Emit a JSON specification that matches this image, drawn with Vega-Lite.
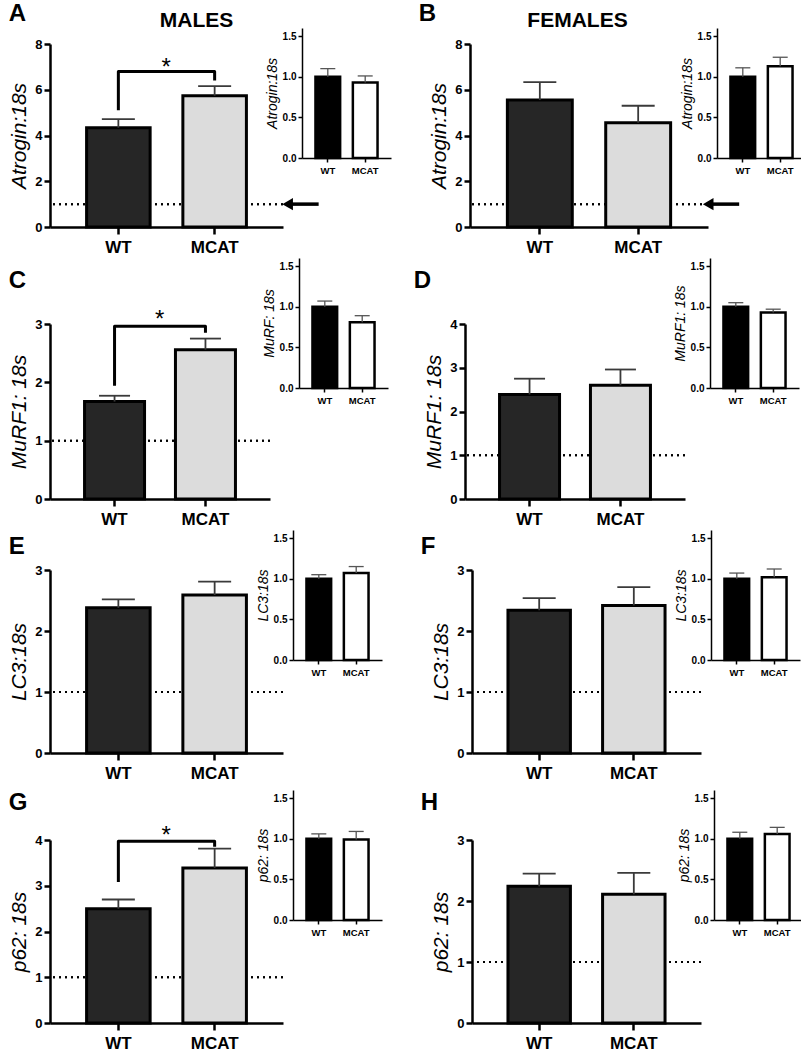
{
  "$schema": "https://vega.github.io/schema/vega-lite/v6.json",
  "padding": {"left": 8, "top": 2, "right": 0, "bottom": 0},
  "datasets": {
    "main": [
      {"panel": "A", "group": "WT", "mean": 4.34, "upper": 4.72},
      {"panel": "A", "group": "MCAT", "mean": 5.74, "upper": 6.16},
      {"panel": "B", "group": "WT", "mean": 5.55, "upper": 6.33},
      {"panel": "B", "group": "MCAT", "mean": 4.56, "upper": 5.3},
      {"panel": "C", "group": "WT", "mean": 1.67, "upper": 1.77},
      {"panel": "C", "group": "MCAT", "mean": 2.56, "upper": 2.75},
      {"panel": "D", "group": "WT", "mean": 2.39, "upper": 2.75},
      {"panel": "D", "group": "MCAT", "mean": 2.6, "upper": 2.96},
      {"panel": "E", "group": "WT", "mean": 2.38, "upper": 2.52},
      {"panel": "E", "group": "MCAT", "mean": 2.59, "upper": 2.81},
      {"panel": "F", "group": "WT", "mean": 2.34, "upper": 2.54},
      {"panel": "F", "group": "MCAT", "mean": 2.42, "upper": 2.72},
      {"panel": "G", "group": "WT", "mean": 2.5, "upper": 2.7},
      {"panel": "G", "group": "MCAT", "mean": 3.39, "upper": 3.81},
      {"panel": "H", "group": "WT", "mean": 2.24, "upper": 2.45},
      {"panel": "H", "group": "MCAT", "mean": 2.11, "upper": 2.46}
    ],
    "inset": [
      {"panel": "A", "group": "WT", "mean": 1.0, "upper": 1.1},
      {"panel": "A", "group": "MCAT", "mean": 0.93, "upper": 1.01},
      {"panel": "B", "group": "WT", "mean": 1.0, "upper": 1.11},
      {"panel": "B", "group": "MCAT", "mean": 1.13, "upper": 1.24},
      {"panel": "C", "group": "WT", "mean": 1.0, "upper": 1.07},
      {"panel": "C", "group": "MCAT", "mean": 0.81, "upper": 0.89},
      {"panel": "D", "group": "WT", "mean": 1.0, "upper": 1.05},
      {"panel": "D", "group": "MCAT", "mean": 0.93, "upper": 0.97},
      {"panel": "E", "group": "WT", "mean": 1.0, "upper": 1.05},
      {"panel": "E", "group": "MCAT", "mean": 1.07, "upper": 1.15},
      {"panel": "F", "group": "WT", "mean": 1.0, "upper": 1.07},
      {"panel": "F", "group": "MCAT", "mean": 1.02, "upper": 1.12},
      {"panel": "G", "group": "WT", "mean": 1.0, "upper": 1.06},
      {"panel": "G", "group": "MCAT", "mean": 0.99, "upper": 1.09},
      {"panel": "H", "group": "WT", "mean": 1.0, "upper": 1.08},
      {"panel": "H", "group": "MCAT", "mean": 1.06, "upper": 1.14}
    ],
    "bracket": [
      {"panel": "A", "group": "WT", "y": 5.1, "order": 1},
      {"panel": "A", "group": "WT", "y": 6.8, "order": 2},
      {"panel": "A", "group": "MCAT", "y": 6.8, "order": 3},
      {"panel": "A", "group": "MCAT", "y": 6.4, "order": 4},
      {"panel": "C", "group": "WT", "y": 1.94, "order": 1},
      {"panel": "C", "group": "WT", "y": 2.96, "order": 2},
      {"panel": "C", "group": "MCAT", "y": 2.96, "order": 3},
      {"panel": "C", "group": "MCAT", "y": 2.85, "order": 4},
      {"panel": "G", "group": "WT", "y": 3.08, "order": 1},
      {"panel": "G", "group": "WT", "y": 3.97, "order": 2},
      {"panel": "G", "group": "MCAT", "y": 3.97, "order": 3},
      {"panel": "G", "group": "MCAT", "y": 3.85, "order": 4}
    ],
    "star": [
      {"panel": "A", "group": "WT", "y": 6.97, "label": "*"},
      {"panel": "C", "group": "WT", "y": 3.07, "label": "*"},
      {"panel": "G", "group": "WT", "y": 4.09, "label": "*"}
    ],
    "arrow": [
      {"panel": "A", "group": "MCAT", "y": 1},
      {"panel": "B", "group": "MCAT", "y": 1}
    ]
  },
  "columns": 1,
  "align": "none",
  "spacing": 3,
  "concat": [
    {
      "columns": 2, "align": "none", "spacing": 27,
      "concat": [
        {
          "columns": 2, "align": "none", "spacing": -160,
          "concat": [
            {
              "width": 233, "height": 225,
              "title": {"text": "A", "fontSize": 24, "anchor": "start", "frame": "bounds", "offset": -24},
              "layer": [
                {"data": {"name": "main"}, "transform": [{"filter": "datum.panel === 'A'"}],
                 "mark": {"type": "rule", "color": "black", "strokeWidth": 2, "strokeDash": [2, 4]},
                 "encoding": {"y": {"datum": 1, "type": "quantitative"}}},
                {"data": {"name": "main"}, "transform": [{"filter": "datum.panel === 'A'"}],
                 "mark": {"type": "bar", "stroke": "black", "strokeWidth": 3},
                 "encoding": {
                   "x": {"field": "group", "type": "nominal", "sort": ["WT", "MCAT"], "scale": {"domain": ["WT", "MCAT"], "paddingInner": 0.34, "paddingOuter": 0.38}, "axis": {"title": null, "labelAngle": 0, "labelFontSize": 17, "labelFontWeight": "bold", "labelPadding": 5, "tickSize": 7, "tickWidth": 2.5, "domainWidth": 2.5}},
                   "y": {"field": "mean", "type": "quantitative", "scale": {"domain": [0, 8], "range": [225, 42]}, "axis": {"title": "Atrogin:18s", "values": [0, 2, 4, 6, 8], "format": "d", "titleFontStyle": "italic", "titleFontWeight": "normal", "titleFontSize": 21, "titlePadding": 5, "labelFontSize": 13, "labelFontWeight": "bold", "labelPadding": 2, "tickSize": 6, "tickWidth": 2.5, "domainWidth": 2.5}},
                   "color": {"condition": {"test": "datum.group === 'WT'", "value": "#262626"}, "value": "#dcdcdc"}
                 }},
                {"data": {"name": "main"}, "transform": [{"filter": "datum.panel === 'A'"}],
                 "mark": {"type": "rule", "color": "#3a3a3a", "strokeWidth": 1.8},
                 "encoding": {"x": {"field": "group", "type": "nominal"}, "y": {"field": "mean", "type": "quantitative"}, "y2": {"field": "upper"}}},
                {"data": {"name": "main"}, "transform": [{"filter": "datum.panel === 'A'"}],
                 "mark": {"type": "tick", "color": "#3a3a3a", "thickness": 1.8, "size": 33, "opacity": 1},
                 "encoding": {"x": {"field": "group", "type": "nominal"}, "y": {"field": "upper", "type": "quantitative"}}},
                {"data": {"name": "bracket"}, "transform": [{"filter": "datum.panel === 'A'"}],
                 "mark": {"type": "line", "color": "black", "strokeWidth": 3, "strokeJoin": "round"},
                 "encoding": {"x": {"field": "group", "type": "nominal"}, "y": {"field": "y", "type": "quantitative"}, "order": {"field": "order"}}},
                {"data": {"name": "star"}, "transform": [{"filter": "datum.panel === 'A'"}],
                 "mark": {"type": "text", "fontSize": 24, "baseline": "middle", "color": "black"},
                 "encoding": {"x": {"field": "group", "type": "nominal", "bandPosition": 1.254}, "y": {"field": "y", "type": "quantitative"}, "text": {"field": "label"}}},
                {"data": {"name": "arrow"}, "transform": [{"filter": "datum.panel === 'A'"}],
                 "mark": {"type": "tick", "color": "black", "thickness": 3.5, "size": 28, "xOffset": 90, "opacity": 1},
                 "encoding": {"x": {"field": "group", "type": "nominal"}, "y": {"field": "y", "type": "quantitative"}}},
                {"data": {"name": "arrow"}, "transform": [{"filter": "datum.panel === 'A'"}],
                 "mark": {"type": "point", "shape": "triangle-left", "filled": true, "color": "black", "size": 150, "xOffset": 73, "opacity": 1},
                 "encoding": {"x": {"field": "group", "type": "nominal"}, "y": {"field": "y", "type": "quantitative"}}}
              ]
            },
            {
              "width": 89, "height": 156,
              "title": {"text": "MALES", "fontSize": 21, "anchor": "middle", "frame": "group", "dx": -150, "offset": -29},
              "layer": [
                {"data": {"name": "inset"}, "transform": [{"filter": "datum.panel === 'A'"}],
                 "mark": {"type": "bar", "stroke": "black", "strokeWidth": 2.5},
                 "encoding": {
                   "x": {"field": "group", "type": "nominal", "sort": ["WT", "MCAT"], "scale": {"domain": ["WT", "MCAT"], "paddingInner": 0.34, "paddingOuter": 0.36}, "axis": {"title": null, "labelAngle": 0, "labelFontSize": 9.5, "labelFontWeight": "bold", "labelPadding": 3, "tickSize": 4, "tickWidth": 1.5, "domainWidth": 1.5}},
                   "y": {"field": "mean", "type": "quantitative", "scale": {"domain": [0, 1.5], "range": [156, 26]}, "axis": {"title": "Atrogin:18s", "values": [0, 0.5, 1, 1.5], "format": ".1f", "titleFontStyle": "italic", "titleFontWeight": "normal", "titleFontSize": 14, "titlePadding": 3, "labelFontSize": 10, "labelFontWeight": "bold", "labelPadding": 2, "tickSize": 4, "tickWidth": 1.5, "domainWidth": 1.5}},
                   "color": {"condition": {"test": "datum.group === 'WT'", "value": "black"}, "value": "white"}
                 }},
                {"data": {"name": "inset"}, "transform": [{"filter": "datum.panel === 'A'"}],
                 "mark": {"type": "rule", "color": "#555555", "strokeWidth": 1.3},
                 "encoding": {"x": {"field": "group", "type": "nominal"}, "y": {"field": "mean", "type": "quantitative"}, "y2": {"field": "upper"}}},
                {"data": {"name": "inset"}, "transform": [{"filter": "datum.panel === 'A'"}],
                 "mark": {"type": "tick", "color": "#555555", "thickness": 1.3, "size": 15, "opacity": 1},
                 "encoding": {"x": {"field": "group", "type": "nominal"}, "y": {"field": "upper", "type": "quantitative"}}}
              ]
            }
          ]
        },
        {
          "columns": 2, "align": "none", "spacing": -213,
          "concat": [
            {
              "width": 238, "height": 225,
              "title": {"text": "B", "fontSize": 24, "anchor": "start", "frame": "bounds", "offset": -24, "dx": -10},
              "layer": [
                {"data": {"name": "main"}, "transform": [{"filter": "datum.panel === 'B'"}],
                 "mark": {"type": "rule", "color": "black", "strokeWidth": 2, "strokeDash": [2, 4]},
                 "encoding": {"y": {"datum": 1, "type": "quantitative"}}},
                {"data": {"name": "main"}, "transform": [{"filter": "datum.panel === 'B'"}],
                 "mark": {"type": "bar", "stroke": "black", "strokeWidth": 3},
                 "encoding": {
                   "x": {"field": "group", "type": "nominal", "sort": ["WT", "MCAT"], "scale": {"domain": ["WT", "MCAT"], "paddingInner": 0.34, "paddingOuter": 0.38}, "axis": {"title": null, "labelAngle": 0, "labelFontSize": 17, "labelFontWeight": "bold", "labelPadding": 5, "tickSize": 7, "tickWidth": 2.5, "domainWidth": 2.5}},
                   "y": {"field": "mean", "type": "quantitative", "scale": {"domain": [0, 8], "range": [225, 42]}, "axis": {"title": "Atrogin:18s", "values": [0, 2, 4, 6, 8], "format": "d", "titleFontStyle": "italic", "titleFontWeight": "normal", "titleFontSize": 21, "titlePadding": 5, "labelFontSize": 13, "labelFontWeight": "bold", "labelPadding": 2, "tickSize": 6, "tickWidth": 2.5, "domainWidth": 2.5}},
                   "color": {"condition": {"test": "datum.group === 'WT'", "value": "#262626"}, "value": "#dcdcdc"}
                 }},
                {"data": {"name": "main"}, "transform": [{"filter": "datum.panel === 'B'"}],
                 "mark": {"type": "rule", "color": "#3a3a3a", "strokeWidth": 1.8},
                 "encoding": {"x": {"field": "group", "type": "nominal"}, "y": {"field": "mean", "type": "quantitative"}, "y2": {"field": "upper"}}},
                {"data": {"name": "main"}, "transform": [{"filter": "datum.panel === 'B'"}],
                 "mark": {"type": "tick", "color": "#3a3a3a", "thickness": 1.8, "size": 33, "opacity": 1},
                 "encoding": {"x": {"field": "group", "type": "nominal"}, "y": {"field": "upper", "type": "quantitative"}}},
                {"data": {"name": "arrow"}, "transform": [{"filter": "datum.panel === 'B'"}],
                 "mark": {"type": "tick", "color": "black", "thickness": 3.5, "size": 28, "xOffset": 87, "opacity": 1},
                 "encoding": {"x": {"field": "group", "type": "nominal"}, "y": {"field": "y", "type": "quantitative"}}},
                {"data": {"name": "arrow"}, "transform": [{"filter": "datum.panel === 'B'"}],
                 "mark": {"type": "point", "shape": "triangle-left", "filled": true, "color": "black", "size": 150, "xOffset": 70, "opacity": 1},
                 "encoding": {"x": {"field": "group", "type": "nominal"}, "y": {"field": "y", "type": "quantitative"}}}
              ]
            },
            {
              "width": 89, "height": 156,
              "title": {"text": "FEMALES", "fontSize": 21, "anchor": "middle", "frame": "group", "dx": -184, "offset": -29},
              "layer": [
                {"data": {"name": "inset"}, "transform": [{"filter": "datum.panel === 'B'"}],
                 "mark": {"type": "bar", "stroke": "black", "strokeWidth": 2.5},
                 "encoding": {
                   "x": {"field": "group", "type": "nominal", "sort": ["WT", "MCAT"], "scale": {"domain": ["WT", "MCAT"], "paddingInner": 0.34, "paddingOuter": 0.36}, "axis": {"title": null, "labelAngle": 0, "labelFontSize": 9.5, "labelFontWeight": "bold", "labelPadding": 3, "tickSize": 4, "tickWidth": 1.5, "domainWidth": 1.5}},
                   "y": {"field": "mean", "type": "quantitative", "scale": {"domain": [0, 1.5], "range": [156, 26]}, "axis": {"title": "Atrogin:18s", "values": [0, 0.5, 1, 1.5], "format": ".1f", "titleFontStyle": "italic", "titleFontWeight": "normal", "titleFontSize": 14, "titlePadding": 3, "labelFontSize": 10, "labelFontWeight": "bold", "labelPadding": 2, "tickSize": 4, "tickWidth": 1.5, "domainWidth": 1.5}},
                   "color": {"condition": {"test": "datum.group === 'WT'", "value": "black"}, "value": "white"}
                 }},
                {"data": {"name": "inset"}, "transform": [{"filter": "datum.panel === 'B'"}],
                 "mark": {"type": "rule", "color": "#555555", "strokeWidth": 1.3},
                 "encoding": {"x": {"field": "group", "type": "nominal"}, "y": {"field": "mean", "type": "quantitative"}, "y2": {"field": "upper"}}},
                {"data": {"name": "inset"}, "transform": [{"filter": "datum.panel === 'B'"}],
                 "mark": {"type": "tick", "color": "#555555", "thickness": 1.3, "size": 15, "opacity": 1},
                 "encoding": {"x": {"field": "group", "type": "nominal"}, "y": {"field": "upper", "type": "quantitative"}}}
              ]
            }
          ]
        }
      ]
    },
    {
      "columns": 2, "align": "none", "spacing": 25,
      "concat": [
        {
          "columns": 2, "align": "none", "spacing": -9,
          "concat": [
            {
              "width": 220, "height": 241,
              "title": {"text": "C", "fontSize": 24, "anchor": "start", "frame": "bounds", "offset": -35},
              "layer": [
                {"data": {"name": "main"}, "transform": [{"filter": "datum.panel === 'C'"}],
                 "mark": {"type": "rule", "color": "black", "strokeWidth": 2, "strokeDash": [2, 4]},
                 "encoding": {"y": {"datum": 1, "type": "quantitative"}}},
                {"data": {"name": "main"}, "transform": [{"filter": "datum.panel === 'C'"}],
                 "mark": {"type": "bar", "stroke": "black", "strokeWidth": 3},
                 "encoding": {
                   "x": {"field": "group", "type": "nominal", "sort": ["WT", "MCAT"], "scale": {"domain": ["WT", "MCAT"], "paddingInner": 0.34, "paddingOuter": 0.38}, "axis": {"title": null, "labelAngle": 0, "labelFontSize": 17, "labelFontWeight": "bold", "labelPadding": 5, "tickSize": 7, "tickWidth": 2.5, "domainWidth": 2.5}},
                   "y": {"field": "mean", "type": "quantitative", "scale": {"domain": [0, 3], "range": [241, 66]}, "axis": {"title": "MuRF1: 18s", "values": [0, 1, 2, 3], "format": "d", "titleFontStyle": "italic", "titleFontWeight": "normal", "titleFontSize": 21, "titlePadding": 5, "labelFontSize": 13, "labelFontWeight": "bold", "labelPadding": 2, "tickSize": 6, "tickWidth": 2.5, "domainWidth": 2.5}},
                   "color": {"condition": {"test": "datum.group === 'WT'", "value": "#262626"}, "value": "#dcdcdc"}
                 }},
                {"data": {"name": "main"}, "transform": [{"filter": "datum.panel === 'C'"}],
                 "mark": {"type": "rule", "color": "#3a3a3a", "strokeWidth": 1.8},
                 "encoding": {"x": {"field": "group", "type": "nominal"}, "y": {"field": "mean", "type": "quantitative"}, "y2": {"field": "upper"}}},
                {"data": {"name": "main"}, "transform": [{"filter": "datum.panel === 'C'"}],
                 "mark": {"type": "tick", "color": "#3a3a3a", "thickness": 1.8, "size": 31, "opacity": 1},
                 "encoding": {"x": {"field": "group", "type": "nominal"}, "y": {"field": "upper", "type": "quantitative"}}},
                {"data": {"name": "bracket"}, "transform": [{"filter": "datum.panel === 'C'"}],
                 "mark": {"type": "line", "color": "black", "strokeWidth": 3, "strokeJoin": "round"},
                 "encoding": {"x": {"field": "group", "type": "nominal"}, "y": {"field": "y", "type": "quantitative"}, "order": {"field": "order"}}},
                {"data": {"name": "star"}, "transform": [{"filter": "datum.panel === 'C'"}],
                 "mark": {"type": "text", "fontSize": 24, "baseline": "middle", "color": "black"},
                 "encoding": {"x": {"field": "group", "type": "nominal", "bandPosition": 1.254}, "y": {"field": "y", "type": "quantitative"}, "text": {"field": "label"}}}
              ]
            },
            {
              "width": 89, "height": 130,
              "layer": [
                {"data": {"name": "inset"}, "transform": [{"filter": "datum.panel === 'C'"}],
                 "mark": {"type": "bar", "stroke": "black", "strokeWidth": 2.5},
                 "encoding": {
                   "x": {"field": "group", "type": "nominal", "sort": ["WT", "MCAT"], "scale": {"domain": ["WT", "MCAT"], "paddingInner": 0.34, "paddingOuter": 0.36}, "axis": {"title": null, "labelAngle": 0, "labelFontSize": 9.5, "labelFontWeight": "bold", "labelPadding": 3, "tickSize": 4, "tickWidth": 1.5, "domainWidth": 1.5}},
                   "y": {"field": "mean", "type": "quantitative", "scale": {"domain": [0, 1.5], "range": [130, 0]}, "axis": {"title": "MuRF: 18s", "values": [0, 0.5, 1, 1.5], "format": ".1f", "titleFontStyle": "italic", "titleFontWeight": "normal", "titleFontSize": 14, "titlePadding": 3, "labelFontSize": 10, "labelFontWeight": "bold", "labelPadding": 2, "tickSize": 4, "tickWidth": 1.5, "domainWidth": 1.5}},
                   "color": {"condition": {"test": "datum.group === 'WT'", "value": "black"}, "value": "white"}
                 }},
                {"data": {"name": "inset"}, "transform": [{"filter": "datum.panel === 'C'"}],
                 "mark": {"type": "rule", "color": "#555555", "strokeWidth": 1.3},
                 "encoding": {"x": {"field": "group", "type": "nominal"}, "y": {"field": "mean", "type": "quantitative"}, "y2": {"field": "upper"}}},
                {"data": {"name": "inset"}, "transform": [{"filter": "datum.panel === 'C'"}],
                 "mark": {"type": "tick", "color": "#555555", "thickness": 1.3, "size": 15, "opacity": 1},
                 "encoding": {"x": {"field": "group", "type": "nominal"}, "y": {"field": "upper", "type": "quantitative"}}}
              ]
            }
          ]
        },
        {
          "columns": 2, "align": "none", "spacing": -13,
          "concat": [
            {
              "width": 220, "height": 241,
              "title": {"text": "D", "fontSize": 24, "anchor": "start", "frame": "bounds", "offset": -35, "dx": -10},
              "layer": [
                {"data": {"name": "main"}, "transform": [{"filter": "datum.panel === 'D'"}],
                 "mark": {"type": "rule", "color": "black", "strokeWidth": 2, "strokeDash": [2, 4]},
                 "encoding": {"y": {"datum": 1, "type": "quantitative"}}},
                {"data": {"name": "main"}, "transform": [{"filter": "datum.panel === 'D'"}],
                 "mark": {"type": "bar", "stroke": "black", "strokeWidth": 3},
                 "encoding": {
                   "x": {"field": "group", "type": "nominal", "sort": ["WT", "MCAT"], "scale": {"domain": ["WT", "MCAT"], "paddingInner": 0.34, "paddingOuter": 0.38}, "axis": {"title": null, "labelAngle": 0, "labelFontSize": 17, "labelFontWeight": "bold", "labelPadding": 5, "tickSize": 7, "tickWidth": 2.5, "domainWidth": 2.5}},
                   "y": {"field": "mean", "type": "quantitative", "scale": {"domain": [0, 4], "range": [241, 66]}, "axis": {"title": "MuRF1: 18s", "values": [0, 1, 2, 3, 4], "format": "d", "titleFontStyle": "italic", "titleFontWeight": "normal", "titleFontSize": 21, "titlePadding": 5, "labelFontSize": 13, "labelFontWeight": "bold", "labelPadding": 2, "tickSize": 6, "tickWidth": 2.5, "domainWidth": 2.5}},
                   "color": {"condition": {"test": "datum.group === 'WT'", "value": "#262626"}, "value": "#dcdcdc"}
                 }},
                {"data": {"name": "main"}, "transform": [{"filter": "datum.panel === 'D'"}],
                 "mark": {"type": "rule", "color": "#3a3a3a", "strokeWidth": 1.8},
                 "encoding": {"x": {"field": "group", "type": "nominal"}, "y": {"field": "mean", "type": "quantitative"}, "y2": {"field": "upper"}}},
                {"data": {"name": "main"}, "transform": [{"filter": "datum.panel === 'D'"}],
                 "mark": {"type": "tick", "color": "#3a3a3a", "thickness": 1.8, "size": 31, "opacity": 1},
                 "encoding": {"x": {"field": "group", "type": "nominal"}, "y": {"field": "upper", "type": "quantitative"}}}
              ]
            },
            {
              "width": 89, "height": 130,
              "layer": [
                {"data": {"name": "inset"}, "transform": [{"filter": "datum.panel === 'D'"}],
                 "mark": {"type": "bar", "stroke": "black", "strokeWidth": 2.5},
                 "encoding": {
                   "x": {"field": "group", "type": "nominal", "sort": ["WT", "MCAT"], "scale": {"domain": ["WT", "MCAT"], "paddingInner": 0.34, "paddingOuter": 0.36}, "axis": {"title": null, "labelAngle": 0, "labelFontSize": 9.5, "labelFontWeight": "bold", "labelPadding": 3, "tickSize": 4, "tickWidth": 1.5, "domainWidth": 1.5}},
                   "y": {"field": "mean", "type": "quantitative", "scale": {"domain": [0, 1.5], "range": [130, 0]}, "axis": {"title": "MuRF1: 18s", "values": [0, 0.5, 1, 1.5], "format": ".1f", "titleFontStyle": "italic", "titleFontWeight": "normal", "titleFontSize": 14, "titlePadding": 3, "labelFontSize": 10, "labelFontWeight": "bold", "labelPadding": 2, "tickSize": 4, "tickWidth": 1.5, "domainWidth": 1.5}},
                   "color": {"condition": {"test": "datum.group === 'WT'", "value": "black"}, "value": "white"}
                 }},
                {"data": {"name": "inset"}, "transform": [{"filter": "datum.panel === 'D'"}],
                 "mark": {"type": "rule", "color": "#555555", "strokeWidth": 1.3},
                 "encoding": {"x": {"field": "group", "type": "nominal"}, "y": {"field": "mean", "type": "quantitative"}, "y2": {"field": "upper"}}},
                {"data": {"name": "inset"}, "transform": [{"filter": "datum.panel === 'D'"}],
                 "mark": {"type": "tick", "color": "#555555", "thickness": 1.3, "size": 15, "opacity": 1},
                 "encoding": {"x": {"field": "group", "type": "nominal"}, "y": {"field": "upper", "type": "quantitative"}}}
              ]
            }
          ]
        }
      ]
    },
    {
      "columns": 2, "align": "none", "spacing": 38,
      "concat": [
        {
          "columns": 2, "align": "none", "spacing": -28,
          "concat": [
            {
              "width": 233, "height": 223,
              "title": {"text": "E", "fontSize": 24, "anchor": "start", "frame": "bounds", "offset": -29},
              "layer": [
                {"data": {"name": "main"}, "transform": [{"filter": "datum.panel === 'E'"}],
                 "mark": {"type": "rule", "color": "black", "strokeWidth": 2, "strokeDash": [2, 4]},
                 "encoding": {"y": {"datum": 1, "type": "quantitative"}}},
                {"data": {"name": "main"}, "transform": [{"filter": "datum.panel === 'E'"}],
                 "mark": {"type": "bar", "stroke": "black", "strokeWidth": 3},
                 "encoding": {
                   "x": {"field": "group", "type": "nominal", "sort": ["WT", "MCAT"], "scale": {"domain": ["WT", "MCAT"], "paddingInner": 0.34, "paddingOuter": 0.38}, "axis": {"title": null, "labelAngle": 0, "labelFontSize": 17, "labelFontWeight": "bold", "labelPadding": 5, "tickSize": 7, "tickWidth": 2.5, "domainWidth": 2.5}},
                   "y": {"field": "mean", "type": "quantitative", "scale": {"domain": [0, 3], "range": [223, 40]}, "axis": {"title": "LC3:18s", "values": [0, 1, 2, 3], "format": "d", "titleFontStyle": "italic", "titleFontWeight": "normal", "titleFontSize": 21, "titlePadding": 5, "labelFontSize": 13, "labelFontWeight": "bold", "labelPadding": 2, "tickSize": 6, "tickWidth": 2.5, "domainWidth": 2.5}},
                   "color": {"condition": {"test": "datum.group === 'WT'", "value": "#262626"}, "value": "#dcdcdc"}
                 }},
                {"data": {"name": "main"}, "transform": [{"filter": "datum.panel === 'E'"}],
                 "mark": {"type": "rule", "color": "#3a3a3a", "strokeWidth": 1.8},
                 "encoding": {"x": {"field": "group", "type": "nominal"}, "y": {"field": "mean", "type": "quantitative"}, "y2": {"field": "upper"}}},
                {"data": {"name": "main"}, "transform": [{"filter": "datum.panel === 'E'"}],
                 "mark": {"type": "tick", "color": "#3a3a3a", "thickness": 1.8, "size": 33, "opacity": 1},
                 "encoding": {"x": {"field": "group", "type": "nominal"}, "y": {"field": "upper", "type": "quantitative"}}}
              ]
            },
            {
              "width": 89, "height": 130,
              "layer": [
                {"data": {"name": "inset"}, "transform": [{"filter": "datum.panel === 'E'"}],
                 "mark": {"type": "bar", "stroke": "black", "strokeWidth": 2.5},
                 "encoding": {
                   "x": {"field": "group", "type": "nominal", "sort": ["WT", "MCAT"], "scale": {"domain": ["WT", "MCAT"], "paddingInner": 0.34, "paddingOuter": 0.36}, "axis": {"title": null, "labelAngle": 0, "labelFontSize": 9.5, "labelFontWeight": "bold", "labelPadding": 3, "tickSize": 4, "tickWidth": 1.5, "domainWidth": 1.5}},
                   "y": {"field": "mean", "type": "quantitative", "scale": {"domain": [0, 1.5], "range": [130, 0]}, "axis": {"title": "LC3:18s", "values": [0, 0.5, 1, 1.5], "format": ".1f", "titleFontStyle": "italic", "titleFontWeight": "normal", "titleFontSize": 14, "titlePadding": 3, "labelFontSize": 10, "labelFontWeight": "bold", "labelPadding": 2, "tickSize": 4, "tickWidth": 1.5, "domainWidth": 1.5}},
                   "color": {"condition": {"test": "datum.group === 'WT'", "value": "black"}, "value": "white"}
                 }},
                {"data": {"name": "inset"}, "transform": [{"filter": "datum.panel === 'E'"}],
                 "mark": {"type": "rule", "color": "#555555", "strokeWidth": 1.3},
                 "encoding": {"x": {"field": "group", "type": "nominal"}, "y": {"field": "mean", "type": "quantitative"}, "y2": {"field": "upper"}}},
                {"data": {"name": "inset"}, "transform": [{"filter": "datum.panel === 'E'"}],
                 "mark": {"type": "tick", "color": "#555555", "thickness": 1.3, "size": 15, "opacity": 1},
                 "encoding": {"x": {"field": "group", "type": "nominal"}, "y": {"field": "upper", "type": "quantitative"}}}
              ]
            }
          ]
        },
        {
          "columns": 2, "align": "none", "spacing": -28,
          "concat": [
            {
              "width": 229, "height": 223,
              "title": {"text": "F", "fontSize": 24, "anchor": "start", "frame": "bounds", "offset": -29, "dx": -10},
              "layer": [
                {"data": {"name": "main"}, "transform": [{"filter": "datum.panel === 'F'"}],
                 "mark": {"type": "rule", "color": "black", "strokeWidth": 2, "strokeDash": [2, 4]},
                 "encoding": {"y": {"datum": 1, "type": "quantitative"}}},
                {"data": {"name": "main"}, "transform": [{"filter": "datum.panel === 'F'"}],
                 "mark": {"type": "bar", "stroke": "black", "strokeWidth": 3},
                 "encoding": {
                   "x": {"field": "group", "type": "nominal", "sort": ["WT", "MCAT"], "scale": {"domain": ["WT", "MCAT"], "paddingInner": 0.34, "paddingOuter": 0.38}, "axis": {"title": null, "labelAngle": 0, "labelFontSize": 17, "labelFontWeight": "bold", "labelPadding": 5, "tickSize": 7, "tickWidth": 2.5, "domainWidth": 2.5}},
                   "y": {"field": "mean", "type": "quantitative", "scale": {"domain": [0, 3], "range": [223, 40]}, "axis": {"title": "LC3:18s", "values": [0, 1, 2, 3], "format": "d", "titleFontStyle": "italic", "titleFontWeight": "normal", "titleFontSize": 21, "titlePadding": 5, "labelFontSize": 13, "labelFontWeight": "bold", "labelPadding": 2, "tickSize": 6, "tickWidth": 2.5, "domainWidth": 2.5}},
                   "color": {"condition": {"test": "datum.group === 'WT'", "value": "#262626"}, "value": "#dcdcdc"}
                 }},
                {"data": {"name": "main"}, "transform": [{"filter": "datum.panel === 'F'"}],
                 "mark": {"type": "rule", "color": "#3a3a3a", "strokeWidth": 1.8},
                 "encoding": {"x": {"field": "group", "type": "nominal"}, "y": {"field": "mean", "type": "quantitative"}, "y2": {"field": "upper"}}},
                {"data": {"name": "main"}, "transform": [{"filter": "datum.panel === 'F'"}],
                 "mark": {"type": "tick", "color": "#3a3a3a", "thickness": 1.8, "size": 33, "opacity": 1},
                 "encoding": {"x": {"field": "group", "type": "nominal"}, "y": {"field": "upper", "type": "quantitative"}}}
              ]
            },
            {
              "width": 89, "height": 130,
              "layer": [
                {"data": {"name": "inset"}, "transform": [{"filter": "datum.panel === 'F'"}],
                 "mark": {"type": "bar", "stroke": "black", "strokeWidth": 2.5},
                 "encoding": {
                   "x": {"field": "group", "type": "nominal", "sort": ["WT", "MCAT"], "scale": {"domain": ["WT", "MCAT"], "paddingInner": 0.34, "paddingOuter": 0.36}, "axis": {"title": null, "labelAngle": 0, "labelFontSize": 9.5, "labelFontWeight": "bold", "labelPadding": 3, "tickSize": 4, "tickWidth": 1.5, "domainWidth": 1.5}},
                   "y": {"field": "mean", "type": "quantitative", "scale": {"domain": [0, 1.5], "range": [130, 0]}, "axis": {"title": "LC3:18s", "values": [0, 0.5, 1, 1.5], "format": ".1f", "titleFontStyle": "italic", "titleFontWeight": "normal", "titleFontSize": 14, "titlePadding": 3, "labelFontSize": 10, "labelFontWeight": "bold", "labelPadding": 2, "tickSize": 4, "tickWidth": 1.5, "domainWidth": 1.5}},
                   "color": {"condition": {"test": "datum.group === 'WT'", "value": "black"}, "value": "white"}
                 }},
                {"data": {"name": "inset"}, "transform": [{"filter": "datum.panel === 'F'"}],
                 "mark": {"type": "rule", "color": "#555555", "strokeWidth": 1.3},
                 "encoding": {"x": {"field": "group", "type": "nominal"}, "y": {"field": "mean", "type": "quantitative"}, "y2": {"field": "upper"}}},
                {"data": {"name": "inset"}, "transform": [{"filter": "datum.panel === 'F'"}],
                 "mark": {"type": "tick", "color": "#555555", "thickness": 1.3, "size": 15, "opacity": 1},
                 "encoding": {"x": {"field": "group", "type": "nominal"}, "y": {"field": "upper", "type": "quantitative"}}}
              ]
            }
          ]
        }
      ]
    },
    {
      "columns": 2, "align": "none", "spacing": 38,
      "concat": [
        {
          "columns": 2, "align": "none", "spacing": -28,
          "concat": [
            {
              "width": 233, "height": 239,
              "title": {"text": "G", "fontSize": 24, "anchor": "start", "frame": "bounds", "offset": -31},
              "layer": [
                {"data": {"name": "main"}, "transform": [{"filter": "datum.panel === 'G'"}],
                 "mark": {"type": "rule", "color": "black", "strokeWidth": 2, "strokeDash": [2, 4]},
                 "encoding": {"y": {"datum": 1, "type": "quantitative"}}},
                {"data": {"name": "main"}, "transform": [{"filter": "datum.panel === 'G'"}],
                 "mark": {"type": "bar", "stroke": "black", "strokeWidth": 3},
                 "encoding": {
                   "x": {"field": "group", "type": "nominal", "sort": ["WT", "MCAT"], "scale": {"domain": ["WT", "MCAT"], "paddingInner": 0.34, "paddingOuter": 0.38}, "axis": {"title": null, "labelAngle": 0, "labelFontSize": 17, "labelFontWeight": "bold", "labelPadding": 5, "tickSize": 7, "tickWidth": 2.5, "domainWidth": 2.5}},
                   "y": {"field": "mean", "type": "quantitative", "scale": {"domain": [0, 4], "range": [239, 56]}, "axis": {"title": "p62: 18s", "values": [0, 1, 2, 3, 4], "format": "d", "titleFontStyle": "italic", "titleFontWeight": "normal", "titleFontSize": 21, "titlePadding": 5, "labelFontSize": 13, "labelFontWeight": "bold", "labelPadding": 2, "tickSize": 6, "tickWidth": 2.5, "domainWidth": 2.5}},
                   "color": {"condition": {"test": "datum.group === 'WT'", "value": "#262626"}, "value": "#dcdcdc"}
                 }},
                {"data": {"name": "main"}, "transform": [{"filter": "datum.panel === 'G'"}],
                 "mark": {"type": "rule", "color": "#3a3a3a", "strokeWidth": 1.8},
                 "encoding": {"x": {"field": "group", "type": "nominal"}, "y": {"field": "mean", "type": "quantitative"}, "y2": {"field": "upper"}}},
                {"data": {"name": "main"}, "transform": [{"filter": "datum.panel === 'G'"}],
                 "mark": {"type": "tick", "color": "#3a3a3a", "thickness": 1.8, "size": 33, "opacity": 1},
                 "encoding": {"x": {"field": "group", "type": "nominal"}, "y": {"field": "upper", "type": "quantitative"}}},
                {"data": {"name": "bracket"}, "transform": [{"filter": "datum.panel === 'G'"}],
                 "mark": {"type": "line", "color": "black", "strokeWidth": 3, "strokeJoin": "round"},
                 "encoding": {"x": {"field": "group", "type": "nominal"}, "y": {"field": "y", "type": "quantitative"}, "order": {"field": "order"}}},
                {"data": {"name": "star"}, "transform": [{"filter": "datum.panel === 'G'"}],
                 "mark": {"type": "text", "fontSize": 24, "baseline": "middle", "color": "black"},
                 "encoding": {"x": {"field": "group", "type": "nominal", "bandPosition": 1.254}, "y": {"field": "y", "type": "quantitative"}, "text": {"field": "label"}}}
              ]
            },
            {
              "width": 89, "height": 136,
              "layer": [
                {"data": {"name": "inset"}, "transform": [{"filter": "datum.panel === 'G'"}],
                 "mark": {"type": "bar", "stroke": "black", "strokeWidth": 2.5},
                 "encoding": {
                   "x": {"field": "group", "type": "nominal", "sort": ["WT", "MCAT"], "scale": {"domain": ["WT", "MCAT"], "paddingInner": 0.34, "paddingOuter": 0.36}, "axis": {"title": null, "labelAngle": 0, "labelFontSize": 9.5, "labelFontWeight": "bold", "labelPadding": 3, "tickSize": 4, "tickWidth": 1.5, "domainWidth": 1.5}},
                   "y": {"field": "mean", "type": "quantitative", "scale": {"domain": [0, 1.5], "range": [136, 6]}, "axis": {"title": "p62: 18s", "values": [0, 0.5, 1, 1.5], "format": ".1f", "titleFontStyle": "italic", "titleFontWeight": "normal", "titleFontSize": 14, "titlePadding": 3, "labelFontSize": 10, "labelFontWeight": "bold", "labelPadding": 2, "tickSize": 4, "tickWidth": 1.5, "domainWidth": 1.5}},
                   "color": {"condition": {"test": "datum.group === 'WT'", "value": "black"}, "value": "white"}
                 }},
                {"data": {"name": "inset"}, "transform": [{"filter": "datum.panel === 'G'"}],
                 "mark": {"type": "rule", "color": "#555555", "strokeWidth": 1.3},
                 "encoding": {"x": {"field": "group", "type": "nominal"}, "y": {"field": "mean", "type": "quantitative"}, "y2": {"field": "upper"}}},
                {"data": {"name": "inset"}, "transform": [{"filter": "datum.panel === 'G'"}],
                 "mark": {"type": "tick", "color": "#555555", "thickness": 1.3, "size": 15, "opacity": 1},
                 "encoding": {"x": {"field": "group", "type": "nominal"}, "y": {"field": "upper", "type": "quantitative"}}}
              ]
            }
          ]
        },
        {
          "columns": 2, "align": "none", "spacing": -25,
          "concat": [
            {
              "width": 229, "height": 239,
              "title": {"text": "H", "fontSize": 24, "anchor": "start", "frame": "bounds", "offset": -31, "dx": -10},
              "layer": [
                {"data": {"name": "main"}, "transform": [{"filter": "datum.panel === 'H'"}],
                 "mark": {"type": "rule", "color": "black", "strokeWidth": 2, "strokeDash": [2, 4]},
                 "encoding": {"y": {"datum": 1, "type": "quantitative"}}},
                {"data": {"name": "main"}, "transform": [{"filter": "datum.panel === 'H'"}],
                 "mark": {"type": "bar", "stroke": "black", "strokeWidth": 3},
                 "encoding": {
                   "x": {"field": "group", "type": "nominal", "sort": ["WT", "MCAT"], "scale": {"domain": ["WT", "MCAT"], "paddingInner": 0.34, "paddingOuter": 0.38}, "axis": {"title": null, "labelAngle": 0, "labelFontSize": 17, "labelFontWeight": "bold", "labelPadding": 5, "tickSize": 7, "tickWidth": 2.5, "domainWidth": 2.5}},
                   "y": {"field": "mean", "type": "quantitative", "scale": {"domain": [0, 3], "range": [239, 56]}, "axis": {"title": "p62: 18s", "values": [0, 1, 2, 3], "format": "d", "titleFontStyle": "italic", "titleFontWeight": "normal", "titleFontSize": 21, "titlePadding": 5, "labelFontSize": 13, "labelFontWeight": "bold", "labelPadding": 2, "tickSize": 6, "tickWidth": 2.5, "domainWidth": 2.5}},
                   "color": {"condition": {"test": "datum.group === 'WT'", "value": "#262626"}, "value": "#dcdcdc"}
                 }},
                {"data": {"name": "main"}, "transform": [{"filter": "datum.panel === 'H'"}],
                 "mark": {"type": "rule", "color": "#3a3a3a", "strokeWidth": 1.8},
                 "encoding": {"x": {"field": "group", "type": "nominal"}, "y": {"field": "mean", "type": "quantitative"}, "y2": {"field": "upper"}}},
                {"data": {"name": "main"}, "transform": [{"filter": "datum.panel === 'H'"}],
                 "mark": {"type": "tick", "color": "#3a3a3a", "thickness": 1.8, "size": 33, "opacity": 1},
                 "encoding": {"x": {"field": "group", "type": "nominal"}, "y": {"field": "upper", "type": "quantitative"}}}
              ]
            },
            {
              "width": 89, "height": 136,
              "layer": [
                {"data": {"name": "inset"}, "transform": [{"filter": "datum.panel === 'H'"}],
                 "mark": {"type": "bar", "stroke": "black", "strokeWidth": 2.5},
                 "encoding": {
                   "x": {"field": "group", "type": "nominal", "sort": ["WT", "MCAT"], "scale": {"domain": ["WT", "MCAT"], "paddingInner": 0.34, "paddingOuter": 0.36}, "axis": {"title": null, "labelAngle": 0, "labelFontSize": 9.5, "labelFontWeight": "bold", "labelPadding": 3, "tickSize": 4, "tickWidth": 1.5, "domainWidth": 1.5}},
                   "y": {"field": "mean", "type": "quantitative", "scale": {"domain": [0, 1.5], "range": [136, 6]}, "axis": {"title": "p62: 18s", "values": [0, 0.5, 1, 1.5], "format": ".1f", "titleFontStyle": "italic", "titleFontWeight": "normal", "titleFontSize": 14, "titlePadding": 3, "labelFontSize": 10, "labelFontWeight": "bold", "labelPadding": 2, "tickSize": 4, "tickWidth": 1.5, "domainWidth": 1.5}},
                   "color": {"condition": {"test": "datum.group === 'WT'", "value": "black"}, "value": "white"}
                 }},
                {"data": {"name": "inset"}, "transform": [{"filter": "datum.panel === 'H'"}],
                 "mark": {"type": "rule", "color": "#555555", "strokeWidth": 1.3},
                 "encoding": {"x": {"field": "group", "type": "nominal"}, "y": {"field": "mean", "type": "quantitative"}, "y2": {"field": "upper"}}},
                {"data": {"name": "inset"}, "transform": [{"filter": "datum.panel === 'H'"}],
                 "mark": {"type": "tick", "color": "#555555", "thickness": 1.3, "size": 15, "opacity": 1},
                 "encoding": {"x": {"field": "group", "type": "nominal"}, "y": {"field": "upper", "type": "quantitative"}}}
              ]
            }
          ]
        }
      ]
    }
  ],
  "config": {
    "font": "Liberation Sans",
    "view": {"stroke": null},
    "axis": {"grid": false, "domainColor": "black", "tickColor": "black", "labelColor": "black", "titleColor": "black"},
    "title": {"color": "black", "fontWeight": "bold"}
  }
}
